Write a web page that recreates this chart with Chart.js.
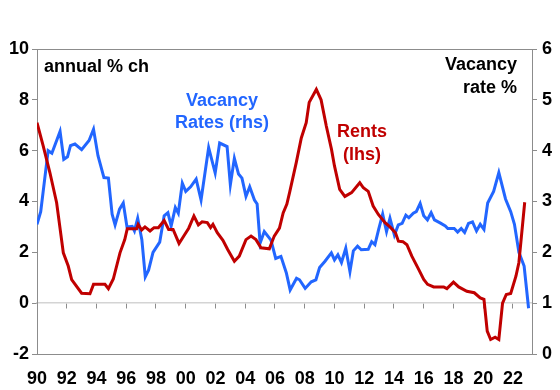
<!DOCTYPE html>
<html>
<head>
<meta charset="utf-8">
<script src="https://cdn.jsdelivr.net/npm/chart.js@4.4.1/dist/chart.umd.min.js"></script>
<style>
  html, body { margin: 0; padding: 0; background: #fff; }
</style>
</head>
<body>
<canvas id="myChart" width="560" height="390"></canvas>
<script>
// Rents, annual % change (left axis)
const rentYears = [1990.0, 1990.42, 1990.87, 1991.32, 1991.77, 1992.1, 1992.33, 1993.0, 1993.56, 1993.8,
  1994.57, 1994.8, 1995.13, 1995.58, 1995.9, 1996.07, 1996.7, 1996.8, 1997.04, 1997.26,
  1997.6, 1997.87, 1998.16, 1998.55, 1998.85, 1999.15, 1999.55, 1999.88, 2000.2, 2000.55,
  2000.85, 2001.1, 2001.45, 2001.67, 2001.83, 2002.12, 2002.5, 2002.82, 2003.27, 2003.6,
  2004.05, 2004.39, 2004.72, 2005.06, 2005.62, 2005.95, 2006.3, 2006.55, 2006.8, 2007.0,
  2007.43, 2007.77, 2008.1, 2008.3, 2008.78, 2009.1, 2009.45, 2009.8, 2010.0, 2010.35,
  2010.7, 2011.15, 2011.7, 2011.94, 2012.27, 2012.6, 2012.95, 2013.4, 2013.73, 2014.1,
  2014.3, 2014.6, 2014.87, 2015.2, 2015.66, 2016.0, 2016.26, 2016.67, 2017.34, 2017.56,
  2018.0, 2018.35, 2018.9, 2019.4, 2019.8, 2020.05, 2020.27, 2020.5, 2020.8, 2021.05,
  2021.3, 2021.55, 2021.85, 2022.2, 2022.4, 2022.79];
const rentValues = [7.1, 6.18, 5.13, 3.95, 1.98, 1.46, 0.93, 0.39, 0.37, 0.74,
  0.74, 0.57, 0.95, 1.98, 2.5, 2.93, 2.93, 3.1, 2.88, 3.0,
  2.84, 2.97, 2.97, 3.25, 2.9, 2.9, 2.35, 2.65, 2.95, 3.43,
  3.08, 3.2, 3.17, 2.97, 3.1, 2.77, 2.47, 2.11, 1.65, 1.85,
  2.5, 2.64, 2.5, 2.18, 2.14, 2.64, 2.95, 3.55, 3.9, 4.4,
  5.53, 6.5, 7.1, 7.9, 8.41, 8.0, 6.97, 6.05, 5.4, 4.48,
  4.2, 4.35, 4.74, 4.54, 4.4, 3.82, 3.49, 3.17, 3.0, 2.77,
  2.44, 2.42, 2.3, 1.85, 1.33, 0.93, 0.74, 0.64, 0.64, 0.57,
  0.83, 0.64, 0.47, 0.41, 0.21, 0.15, -1.1, -1.43, -1.34, -1.43,
  0.0, 0.34, 0.38, 1.06, 1.6, 3.97];

// Vacancy rate % (right axis)
const vacancyYears = [1990.0, 1990.25, 1990.75, 1991.0, 1991.55, 1991.8, 1992.05, 1992.25, 1992.55, 1993.0,
  1993.5, 1993.8, 1994.1, 1994.5, 1994.8, 1995.05, 1995.25, 1995.55, 1995.8, 1996.05,
  1996.4, 1996.55, 1996.77, 1997.05, 1997.28, 1997.5, 1997.8, 1998.25, 1998.55, 1998.8,
  1999.02, 1999.3, 1999.5, 1999.77, 2000.0, 2000.33, 2000.7, 2001.03, 2001.54, 2001.98,
  2002.28, 2002.78, 2003.0, 2003.27, 2003.55, 2003.78, 2004.05, 2004.3, 2004.62, 2004.8,
  2005.0, 2005.28, 2005.73, 2006.05, 2006.4, 2006.76, 2007.02, 2007.45, 2007.65, 2008.03,
  2008.44, 2008.75, 2009.0, 2009.35, 2009.79, 2010.0, 2010.23, 2010.47, 2010.76, 2011.04,
  2011.27, 2011.55, 2011.8, 2012.27, 2012.5, 2012.72, 2012.97, 2013.24, 2013.5, 2013.73,
  2014.03, 2014.29, 2014.55, 2014.8, 2015.0, 2015.3, 2015.5, 2015.76, 2016.0, 2016.25,
  2016.5, 2016.72, 2017.1, 2017.45, 2017.62, 2018.05, 2018.28, 2018.52, 2018.75, 2019.01,
  2019.28, 2019.55, 2019.8, 2020.05, 2020.3, 2020.7, 2021.05, 2021.5, 2021.85, 2022.1,
  2022.4, 2022.75, 2023.05];
const vacancyValues = [2.55, 2.8, 4.0, 3.95, 4.38, 3.83, 3.88, 4.1, 4.13, 4.02,
  4.2, 4.42, 3.9, 3.47, 3.46, 2.75, 2.54, 2.85, 2.97, 2.5,
  2.51, 2.42, 2.67, 2.25, 1.52, 1.65, 2.0, 2.2, 2.72, 2.78,
  2.52, 2.88, 2.77, 3.36, 3.2, 3.29, 3.44, 3.03, 4.06, 3.56,
  4.15, 4.08, 3.33, 3.85, 3.54, 3.46, 3.1, 3.29, 3.03, 2.95,
  2.18, 2.41, 2.24, 1.88, 1.92, 1.6, 1.26, 1.49, 1.46, 1.29,
  1.42, 1.46, 1.7, 1.82, 1.99, 1.85, 1.95, 1.8, 2.08, 1.62,
  2.03, 2.12, 2.05, 2.06, 2.21, 2.15, 2.45, 2.75, 2.41, 2.67,
  2.34, 2.54, 2.57, 2.73, 2.68, 2.77, 2.8, 2.96, 2.72, 2.64,
  2.78, 2.64, 2.58, 2.52, 2.47, 2.47, 2.4, 2.47, 2.39, 2.57,
  2.6, 2.42, 2.55, 2.45, 2.97, 3.2, 3.57, 3.05, 2.8, 2.55,
  2.0, 1.73, 0.9];

const yearTicks = [1990, 1992, 1994, 1996, 1998, 2000, 2002, 2004, 2006, 2008, 2010, 2012, 2014, 2016, 2018, 2020, 2022];
const leftTicks = [-2, 0, 2, 4, 6, 8, 10];
const rightTicks = [0, 1, 2, 3, 4, 5, 6];

const RED = '#C00000';
const BLUE = '#2266FF';
const AXIS = '#8c8c8c';
const FONT = "'Liberation Sans', Arial, sans-serif";

Chart.defaults.font.family = FONT;
Chart.defaults.font.size = 18;
Chart.defaults.font.weight = 'bold';
Chart.defaults.color = '#000';

const xMin = 1990, xMax = 2023.28;

// text labels on the plot
const notes = [
  { text: 'annual % ch', x: 44, y: 67, align: 'left', color: '#000' },
  { text: 'Vacancy', x: 222, y: 101, align: 'center', color: BLUE },
  { text: 'Rates (rhs)', x: 222, y: 123, align: 'center', color: BLUE },
  { text: 'Rents', x: 362, y: 132, align: 'center', color: RED },
  { text: '(lhs)', x: 362, y: 155, align: 'center', color: RED },
  { text: 'Vacancy', x: 517, y: 65, align: 'right', color: '#000' },
  { text: 'rate %', x: 517, y: 88, align: 'right', color: '#000' }
];

const extras = {
  id: 'extras',
  afterDraw(chart) {
    const { ctx, chartArea: a } = chart;
    ctx.save();
    // top frame line
    ctx.strokeStyle = AXIS;
    ctx.lineWidth = 1;
    ctx.beginPath();
    ctx.moveTo(a.left, a.top + 0.5);
    ctx.lineTo(a.right, a.top + 0.5);
    ctx.stroke();
    ctx.font = 'bold 18px ' + FONT;
    ctx.textBaseline = 'middle';
    notes.forEach(n => {
      ctx.fillStyle = n.color;
      ctx.textAlign = n.align;
      ctx.fillText(n.text, n.x, n.y);
    });
    ctx.restore();
  }
};

const ctx = document.getElementById('myChart').getContext('2d');
const myChart = new Chart(ctx, {
  type: 'line',
  data: {
    datasets: [{
      label: 'Rents (lhs)',
      data: rentYears.map((x, i) => ({ x: x, y: rentValues[i] })),
      borderColor: RED,
      borderWidth: 3,
      pointRadius: 0,
      yAxisID: 'y'
    }, {
      label: 'Vacancy Rates (rhs)',
      data: vacancyYears.map((x, i) => ({ x: x, y: vacancyValues[i] })),
      borderColor: BLUE,
      borderWidth: 3,
      pointRadius: 0,
      yAxisID: 'y1'
    }]
  },
  options: {
    responsive: false,
    animation: false,
    layout: { padding: { top: 49, left: 0, right: 0, bottom: 0 } },
    plugins: {
      legend: { display: false },
      tooltip: { enabled: false }
    },
    scales: {
      x: {
        type: 'linear',
        min: xMin,
        max: xMax,
        afterBuildTicks: s => { s.ticks = yearTicks.map(v => ({ value: v })); },
        afterFit: s => { s.height = 36; },
        ticks: {
          padding: 14,
          maxRotation: 0,
          autoSkip: false,
          callback: v => String(v % 100).padStart(2, '0')
        },
        grid: { display: false, drawTicks: false },
        border: { color: AXIS }
      },
      xZero: {
        type: 'linear',
        position: { y: 0 },
        min: xMin,
        max: xMax,
        afterBuildTicks: s => { s.ticks = yearTicks.map(v => ({ value: v })); },
        ticks: { display: false },
        grid: { drawOnChartArea: false, drawTicks: true, tickLength: 5, color: AXIS },
        border: { color: '#d4d4d4', width: 1.5 }
      },
      y: {
        position: 'left',
        min: -2,
        max: 10,
        afterBuildTicks: s => { s.ticks = leftTicks.map(v => ({ value: v })); },
        afterFit: s => { s.width = 37; },
        ticks: { padding: 3, callback: v => String(v) },
        grid: { drawOnChartArea: false, drawTicks: true, tickLength: 5, color: AXIS },
        border: { color: AXIS }
      },
      y1: {
        position: 'right',
        min: 0,
        max: 6,
        afterBuildTicks: s => { s.ticks = rightTicks.map(v => ({ value: v })); },
        afterFit: s => { s.width = 28; },
        ticks: { padding: 5, callback: v => String(v) },
        grid: { drawOnChartArea: false, drawTicks: true, tickLength: 5, color: AXIS },
        border: { color: AXIS }
      }
    }
  },
  plugins: [extras]
});
</script>
</body>
</html>
